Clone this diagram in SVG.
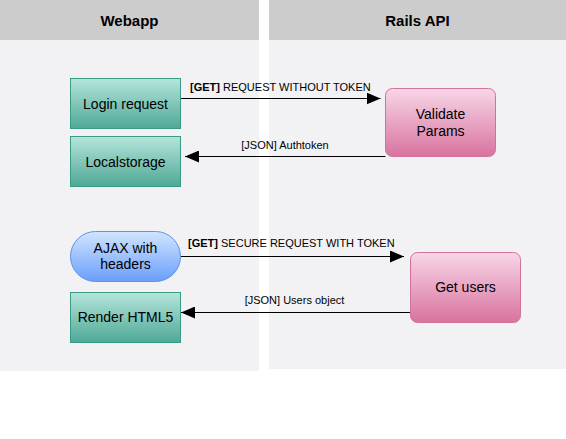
<svg xmlns="http://www.w3.org/2000/svg" width="566" height="439" viewBox="0 0 566 439">
<defs>
<linearGradient id="gGreen" x1="0" y1="0" x2="0" y2="1"><stop offset="0" stop-color="#B5E5DB"/><stop offset="1" stop-color="#4FA896"/></linearGradient>
<linearGradient id="gPink" x1="0" y1="0" x2="0" y2="1"><stop offset="0" stop-color="#F8D6E7"/><stop offset="1" stop-color="#D8739F"/></linearGradient>
<linearGradient id="gBlue" x1="0" y1="0" x2="0" y2="1"><stop offset="0" stop-color="#D2E5FF"/><stop offset="1" stop-color="#6A9EFA"/></linearGradient>
<marker id="arr" viewBox="0 0 14 12" refX="14" refY="6" markerWidth="14" markerHeight="12" markerUnits="userSpaceOnUse" orient="auto"><path d="M0,0 L14,6 L0,12 Z" fill="#000"/></marker>
<style>
.lane{fill:#F2F2F4}
.head{fill:#CCCCCC}
.ht{font-family:"Liberation Sans",Arial,sans-serif;font-size:15px;font-weight:bold;fill:#000;text-anchor:middle}
.green{fill:url(#gGreen);stroke:#3A9C84;stroke-width:1}
.pink{fill:url(#gPink);stroke:#D0729C;stroke-width:1}
.blue{fill:url(#gBlue);stroke:#5B93E8;stroke-width:1}
.nt{font-family:"Liberation Sans",Arial,sans-serif;font-size:14px;fill:#000;text-anchor:middle}
.lt{font-family:"Liberation Sans",Arial,sans-serif;font-size:11px;fill:#000}
.edge{stroke:#000;stroke-width:1;fill:none;marker-end:url(#arr)}
</style>
</defs>
<rect width="566" height="439" fill="#FFFFFF"/>
<g id="lane-webapp">
<rect class="lane" x="0" y="0" width="259" height="371"/>
<rect class="head" x="0" y="0" width="259" height="40"/>
<text class="ht" x="129.5" y="25.5">Webapp</text>
</g>
<g id="lane-rails">
<rect class="lane" x="269" y="0" width="297" height="369"/>
<rect class="head" x="269" y="0" width="297" height="40"/>
<text class="ht" x="417.5" y="25.5">Rails API</text>
</g>
<g id="connectors">
<line class="edge" x1="180.5" y1="98.5" x2="380.5" y2="98.5"/>
<text class="lt" x="190" y="91"><tspan font-weight="bold">[GET]</tspan> REQUEST WITHOUT TOKEN</text>
<line class="edge" x1="385.5" y1="156.5" x2="185" y2="156.5"/>
<text class="lt" x="285" y="148.5" text-anchor="middle">[JSON] Authtoken</text>
<line class="edge" x1="180.5" y1="256.5" x2="404" y2="256.5"/>
<text class="lt" x="188" y="247"><tspan font-weight="bold">[GET]</tspan> SECURE REQUEST WITH TOKEN</text>
<line class="edge" x1="410.5" y1="312.5" x2="181" y2="312.5"/>
<text class="lt" x="294.5" y="304" text-anchor="middle">[JSON] Users object</text>
</g>
<g id="node-login">
<rect class="green" x="70.5" y="78.5" width="110" height="50"/>
<text class="nt" x="125.5" y="108.5">Login request</text>
</g>
<g id="node-localstorage">
<rect class="green" x="70.5" y="136.5" width="110" height="50"/>
<text class="nt" x="125.5" y="166.5">Localstorage</text>
</g>
<g id="node-validate">
<rect class="pink" x="385.5" y="88.5" width="110" height="68" rx="7"/>
<text class="nt" x="440.5" y="119">Validate</text>
<text class="nt" x="440.5" y="135.5">Params</text>
</g>
<g id="node-ajax">
<rect class="blue" x="70.5" y="231.5" width="110" height="50" rx="25"/>
<text class="nt" x="125.5" y="252.5">AJAX with</text>
<text class="nt" x="125.5" y="269">headers</text>
</g>
<g id="node-render">
<rect class="green" x="70.5" y="292.5" width="110" height="50"/>
<text class="nt" x="125.5" y="322">Render HTML5</text>
</g>
<g id="node-getusers">
<rect class="pink" x="410.5" y="252.5" width="110" height="70" rx="7"/>
<text class="nt" x="465.5" y="292">Get users</text>
</g>
</svg>
